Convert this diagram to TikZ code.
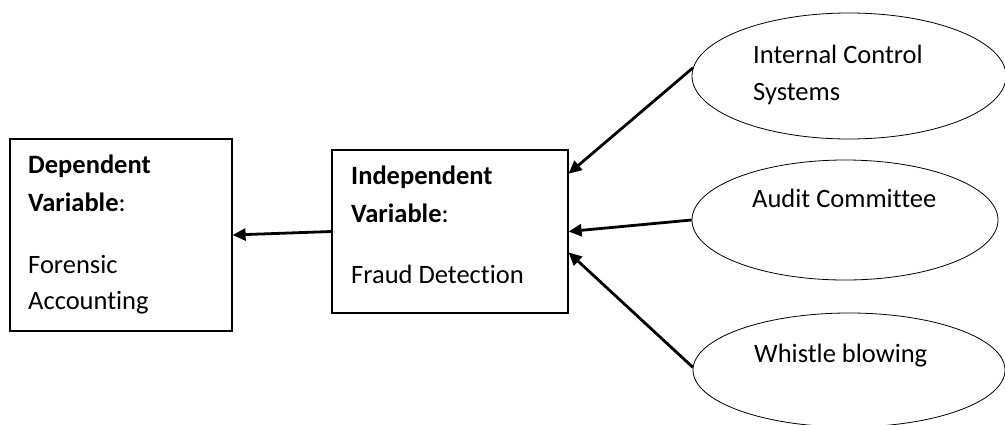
\documentclass[tikz,border=0pt]{standalone}
\usepackage{fontspec}
\setmainfont{Carlito}[Ligatures={NoCommon}]
\usetikzlibrary{shapes.geometric,arrows.meta}
\tikzset{
  box/.style={draw, line width=1.2pt, rectangle, inner sep=0pt},
  oval/.style={draw, line width=0.8pt, ellipse, inner sep=0pt},
  lbl/.style={anchor=base west, inner sep=0pt, font=\fontsize{26.5}{36}\selectfont},
  arr/.style={line width=2.8pt, -{Triangle[length=13pt,width=12pt]}}
}
\begin{document}
\begin{tikzpicture}[x=1pt,y=-1pt]
\useasboundingbox (0,0) rectangle (1005,424);
% boxes
\node[box, minimum width=222pt, minimum height=192pt] (dep) at (121,235) {};
\node[box, minimum width=236pt, minimum height=163pt] (ind) at (450,231.5) {};
% ellipses
\node[oval, minimum width=314pt, minimum height=126pt] (ics) at (849,76) {};
\node[oval, minimum width=306pt, minimum height=120pt] (ac) at (845,220) {};
\node[oval, minimum width=312pt, minimum height=114pt] (wb) at (849,370) {};
% texts
\node[lbl] (t1) at (28,173) {\textbf{Dependent}};
\node[lbl] (t2) at (28,211) {\textbf{Variable}:};
\node[lbl] (t3) at (28,273) {Forensic};
\node[lbl] (t4) at (28,309) {Accounting};
\node[lbl] (t5) at (351,184) {\textbf{Independent}};
\node[lbl] (t6) at (351,222) {\textbf{Variable}:};
\node[lbl] (t7) at (351,283) {Fraud Detection};
\node[lbl] (t8) at (753,63) {Internal Control};
\node[lbl] (t9) at (753,100) {Systems};
\node[lbl] (t10) at (752,207) {Audit Committee};
\node[lbl] (t11) at (754,362) {Whistle blowing};
% arrows
\draw[arr] (ind.west) -- (dep.east);
\draw[arr] (ics.177) -- (ind.26);
\draw[arr] (ac.west) -- (ind.east);
\draw[arr] (wb.179) -- (ind.-10);
\end{tikzpicture}
\end{document}
